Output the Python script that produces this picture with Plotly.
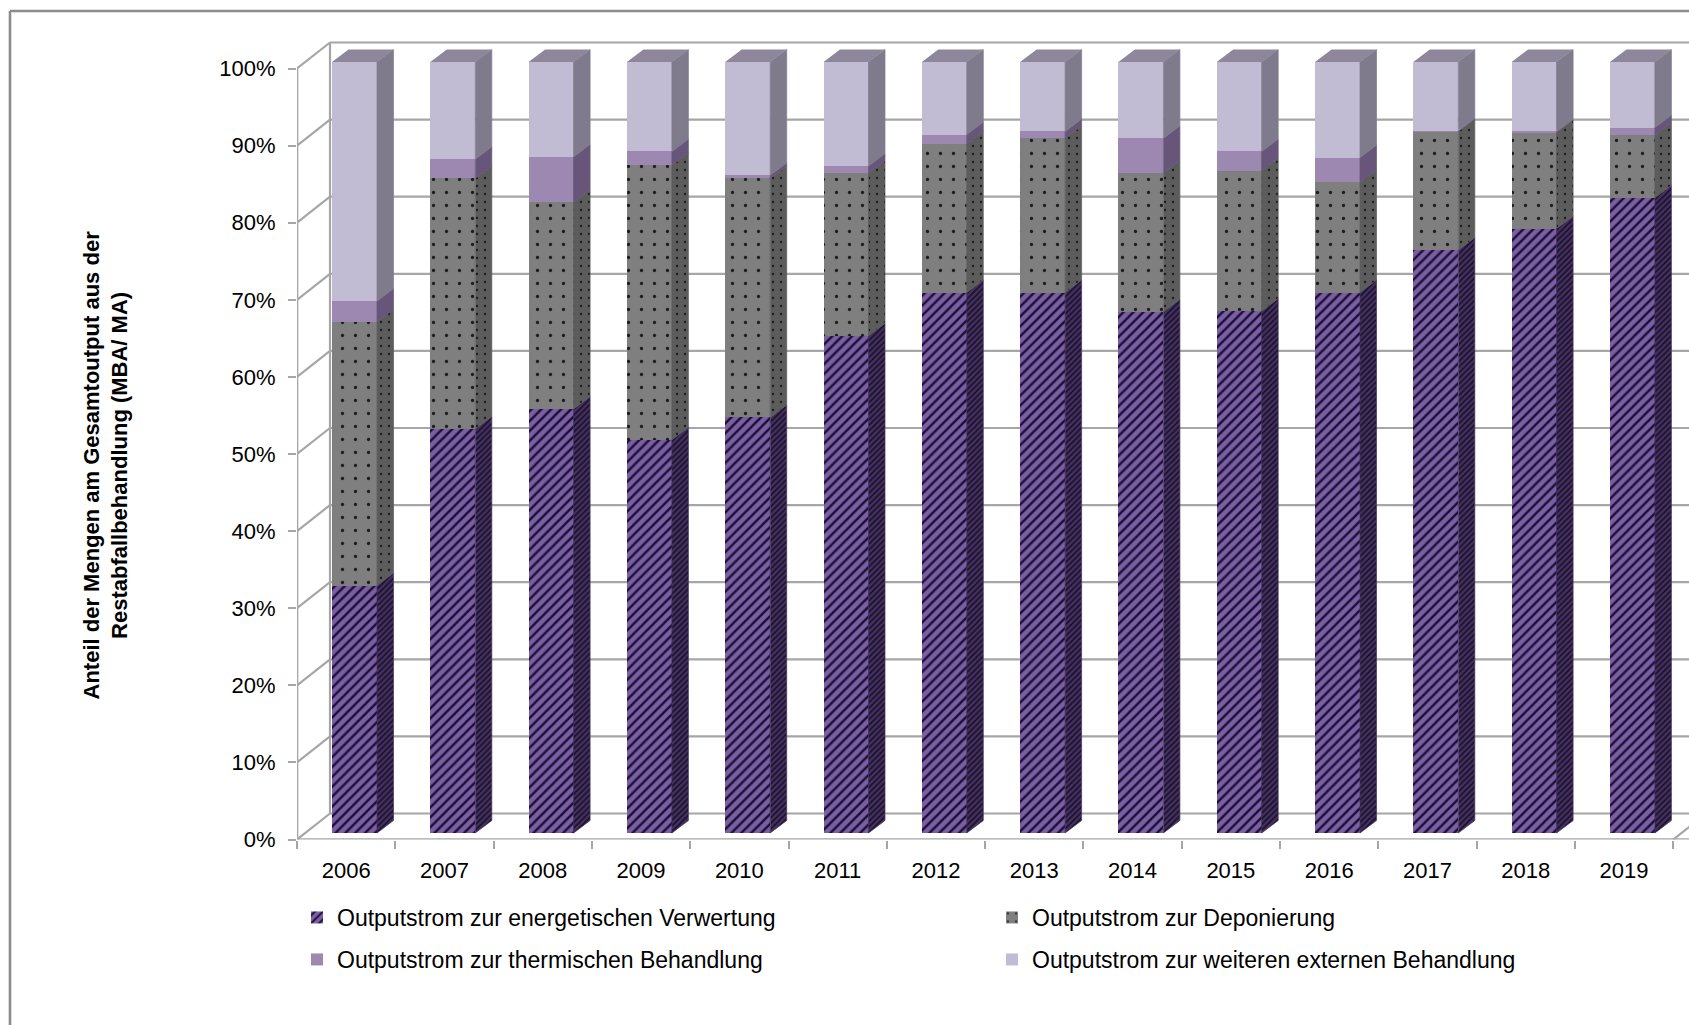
import plotly.graph_objects as go

years = ["2006","2007","2008","2009","2010","2011","2012","2013","2014","2015","2016","2017","2018","2019"]
energetisch = [32.1,52.4,55.0,51.0,53.9,64.5,70.1,70.1,67.6,67.7,70.1,75.6,78.4,82.4]
deponierung = [34.2,32.5,26.8,35.6,31.0,21.1,19.3,20.0,18.0,18.2,14.3,15.4,12.5,8.1]
thermisch = [2.7,2.5,5.9,1.8,0.4,0.9,1.2,0.9,4.5,2.5,3.2,0.1,0.1,1.0]
extern = [31.0,12.6,12.3,11.6,14.7,13.5,9.4,9.0,9.9,11.6,12.4,8.9,9.0,8.5]
names = ["Outputstrom zur energetischen Verwertung","Outputstrom zur Deponierung",
         "Outputstrom zur thermischen Behandlung","Outputstrom zur weiteren externen Behandlung"]

FONT = "Liberation Sans, Arial, sans-serif"
W, H = 1689, 1025
PX0, PY0 = 297, 839.5         # axis origin in the page
CAT_PX, PCT_PX = 98.3, 7.71   # pixels per category / per percent
YMAX = 105
XMAX = (W - PX0) / CAT_PX

# pseudo-3D geometry in axis units
wall_dx, wall_dy = 33 / CAT_PX, 26 / PCT_PX
bar_x0, bar_w = 35 / CAT_PX, 45 / CAT_PX
bar_lift = 6.5 / PCT_PX
side_dx, side_dy = 16.5 / CAT_PX, 12.5 / PCT_PX

GRID = "#a6a6a6"
styles = [
    dict(bg="#7b5ea7", fg="#17102a", side_bg="#45305f", side_fg="#17102a", shape="/", size=7, sol=0.33, sside=4, sol2=0.4),
    dict(bg="#7f7f7f", fg="#1c1c1c", side_bg="#5c5c5c", side_fg="#1c1c1c", shape=".", size=13, sol=0.05, sside=8, sol2=0.07),
    dict(bg="#9c88b0", fg=None, side_bg="#67567a", side_fg=None, shape="", size=8, sol=0.3, sside=8, sol2=0.3),
    dict(bg="#c2bbd4", fg=None, side_bg="#7f7b8c", side_fg=None, shape="", size=8, sol=0.3, sside=8, sol2=0.3),
]
series = [energetisch, deponierung, thermisch, extern]
n = len(years)

fig = go.Figure()

# stacked front faces, side faces
base = [bar_lift] * n
legend_of = ["legend", "legend", "legend2", "legend2"]
for s, vals in enumerate(series):
    st = styles[s]
    marker = dict(color=st["bg"], line=dict(width=0))
    if st["shape"]:
        marker["pattern"] = dict(shape=st["shape"], fgcolor=st["fg"], bgcolor=st["bg"],
                                 size=st["size"], solidity=st["sol"], fillmode="replace")
    fig.add_trace(go.Bar(x=[i + bar_x0 + bar_w / 2 for i in range(n)], y=vals, base=base, width=bar_w,
                         name=names[s], marker=marker, legend=legend_of[s]))
    xs, ys = [], []
    for i in range(n):
        xl = i + bar_x0 + bar_w
        b, t = base[i], base[i] + vals[i]
        xs += [xl, xl + side_dx, xl + side_dx, xl, xl, None]
        ys += [b, b + side_dy, t + side_dy, t, b, None]
    kw = dict(fillcolor=st["side_bg"])
    if st["shape"]:
        kw["fillpattern"] = dict(shape=st["shape"], fgcolor=st["side_fg"], bgcolor=st["side_bg"],
                                 size=st["sside"], solidity=st["sol2"], fillmode="replace")
    fig.add_trace(go.Scatter(x=xs, y=ys, mode="lines", fill="toself", line=dict(width=0.7, color=st["side_bg"]),
                             showlegend=False, hoverinfo="skip", **kw))
    base = [b + v for b, v in zip(base, vals)]

# top faces
xs, ys = [], []
for i in range(n):
    xl = i + bar_x0
    xs += [xl, xl + side_dx, xl + bar_w + side_dx, xl + bar_w, xl, None]
    ys += [base[i], base[i] + side_dy, base[i] + side_dy, base[i], base[i], None]
fig.add_trace(go.Scatter(x=xs, y=ys, mode="lines", fill="toself", fillcolor="#8e879b", line=dict(width=0),
                         showlegend=False, hoverinfo="skip"))

# invisible trace carrying the tick-mark axis
fig.add_trace(go.Scatter(x=[0], y=[0], xaxis="x2", mode="markers", marker=dict(opacity=0),
                         showlegend=False, hoverinfo="skip"))

shapes = []
def line(x0, y0, x1, y1, w=2.2, color=GRID):
    shapes.append(dict(type="line", xref="x", yref="y", x0=x0, y0=y0, x1=x1, y1=y1,
                       line=dict(color=color, width=w), layer="below"))
for v in range(0, 101, 10):
    line(0, v, wall_dx, v + wall_dy)
    line(wall_dx, v + wall_dy, XMAX, v + wall_dy)
line(wall_dx, wall_dy, wall_dx, 100 + wall_dy)
line(0, 0, 0, 100, w=2.6)
line(0, 0, XMAX, 0, w=2.6)
line(n, 0, n + wall_dx, wall_dy)

# outer frame: top and left only, the picture is cropped on the other two sides
for x0, y0, x1, y1 in [(10, 11, W, 11), (10, 11, 10, H)]:
    shapes.append(dict(type="line", xref="paper", yref="paper", x0=x0 / W, x1=x1 / W, y0=1 - y0 / H, y1=1 - y1 / H,
                       line=dict(color="#8c8c8c", width=2.6), layer="below"))

legend_common = dict(orientation="h", xanchor="left", yanchor="middle", entrywidth=650, entrywidthmode="pixels",
                     bgcolor="rgba(0,0,0,0)", font=dict(size=23))

fig.update_layout(
    width=W, height=H, margin=dict(l=0, r=0, t=0, b=0, autoexpand=False),
    paper_bgcolor="white", plot_bgcolor="rgba(0,0,0,0)", barmode="overlay", bargap=0,
    font=dict(family=FONT, size=22, color="#000000"), showlegend=True,
    xaxis=dict(domain=[PX0 / W, 1], range=[0, XMAX], tickmode="array",
               tickvals=[i + 0.5 for i in range(n)], ticktext=years, ticks="", showgrid=False,
               zeroline=False, showline=False, tickfont=dict(size=22), ticklabelstandoff=15),
    xaxis2=dict(domain=[PX0 / W, 1], range=[0, XMAX], anchor="y", overlaying="x", side="bottom",
                tickmode="array", tickvals=list(range(n + 1)), ticktext=[""] * (n + 1), ticks="outside",
                ticklen=8, tickwidth=2.2, tickcolor=GRID, showgrid=False, zeroline=False),
    yaxis=dict(domain=[1 - PY0 / H, 1 - (PY0 - YMAX * PCT_PX) / H], range=[0, YMAX], tickmode="array",
               tickvals=list(range(0, 101, 10)), ticktext=[f"{v}%" for v in range(0, 101, 10)],
               ticks="outside", ticklen=8, tickwidth=2.2, tickcolor=GRID, showgrid=False,
               zeroline=False, showline=False, tickfont=dict(size=22), ticklabelstandoff=8),
    legend=dict(x=297 / W, y=1 - 917.5 / H, **legend_common),
    legend2=dict(x=297 / W, y=1 - 959.5 / H, **legend_common),
    shapes=shapes,
    annotations=[dict(xref="paper", yref="paper", x=76.5 / W, y=1 - 465 / H, showarrow=False, textangle=-90,
                      text="<b>Anteil der Mengen am Gesamtoutput aus der<br>Restabfallbehandlung (MBA/ MA)</b>",
                      font=dict(size=22), align="center")],
)
fig.write_html("out.html", post_script="document.body.style.margin='0';",
               config=dict(displayModeBar=False))
